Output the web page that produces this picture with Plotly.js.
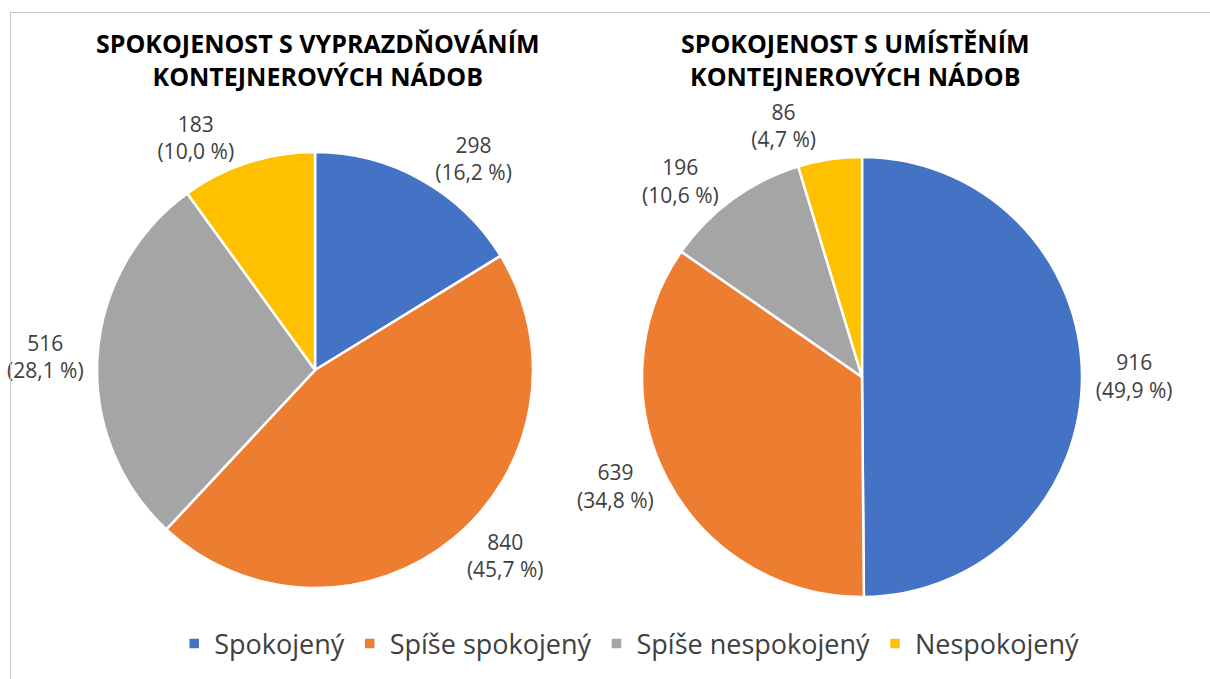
<!DOCTYPE html>
<html>
<head>
<meta charset="utf-8">
<script src="https://cdn.plot.ly/plotly-3.0.1.min.js"></script>
<style>
  html, body { margin: 0; padding: 0; background: #fff; }
  #wrap { position: relative; width: 1210px; height: 679px; overflow: hidden; }
  #chart { width: 1210px; height: 679px; }
  #chart path.textline { stroke-opacity: 0 !important; }
  #frame { position: absolute; left: 10px; top: 12px; width: 1210px; height: 700px;
           border: 1px solid #c6c6c6; box-sizing: border-box; pointer-events: none; }
</style>
</head>
<body>
<div id="wrap"><div id="chart"></div><div id="frame"></div></div>
<script>
const categories = ["Spokojený", "Spíše spokojený", "Spíše nespokojený", "Nespokojený"];
const colors = ["#4472C4", "#ED7D31", "#A5A5A5", "#FFC000"];

const titleLeft = "SPOKOJENOST S VYPRAZDŇOVÁNÍM<br>KONTEJNEROVÝCH NÁDOB";
const valuesLeft = [298, 840, 516, 183];
const pctLeft = ["16,2 %", "45,7 %", "28,1 %", "10,0 %"];

const titleRight = "SPOKOJENOST S UMÍSTĚNÍM<br>KONTEJNEROVÝCH NÁDOB";
const valuesRight = [916, 639, 196, 86];
const pctRight = ["49,9 %", "34,8 %", "10,6 %", "4,7 %"];

const FONT = "'Open Sans', Lato, sans-serif";

function pieTrace(values, pct, domain) {
  return {
    type: "pie",
    labels: categories,
    values: values,
    customdata: pct,
    texttemplate: "%{value}<br>(%{customdata})",
    textposition: "outside",
    textfont: { family: FONT, size: 21, color: "#404040" },
    marker: { colors: colors, line: { color: "#ffffff", width: 2.5 } },
    sort: false,
    direction: "clockwise",
    rotation: 0,
    domain: domain,
    hoverinfo: "label+value",
    automargin: false
  };
}

const data = [
  pieTrace(valuesLeft, pctLeft, { x: [0.0802, 0.4405], y: [0.134, 0.776] }),
  pieTrace(valuesRight, pctRight, { x: [0.5306, 0.8942], y: [0.1208, 0.7688] })
];

const layout = {
  width: 1210, height: 679,
  margin: { l: 0, r: 0, t: 0, b: 0 },
  paper_bgcolor: "#ffffff",
  showlegend: true,
  legend: {
    orientation: "h", x: 0.52, xanchor: "center", y: 0.0515, yanchor: "middle",
    font: { family: FONT, size: 27, color: "#404040" },
    itemwidth: 30, traceorder: "normal"
  },
  annotations: [
    { text: "<b>" + titleLeft + "</b>", x: 0.263, y: 0.913, xref: "paper", yref: "paper",
      showarrow: false, xanchor: "center", yanchor: "middle",
      font: { family: FONT, size: 25, color: "#000000" } },
    { text: "<b>" + titleRight + "</b>", x: 0.707, y: 0.913, xref: "paper", yref: "paper",
      showarrow: false, xanchor: "center", yanchor: "middle",
      font: { family: FONT, size: 25, color: "#000000" } }
  ]
};

Plotly.newPlot("chart", data, layout, { displayModeBar: false, staticPlot: true });
</script>
</body>
</html>
